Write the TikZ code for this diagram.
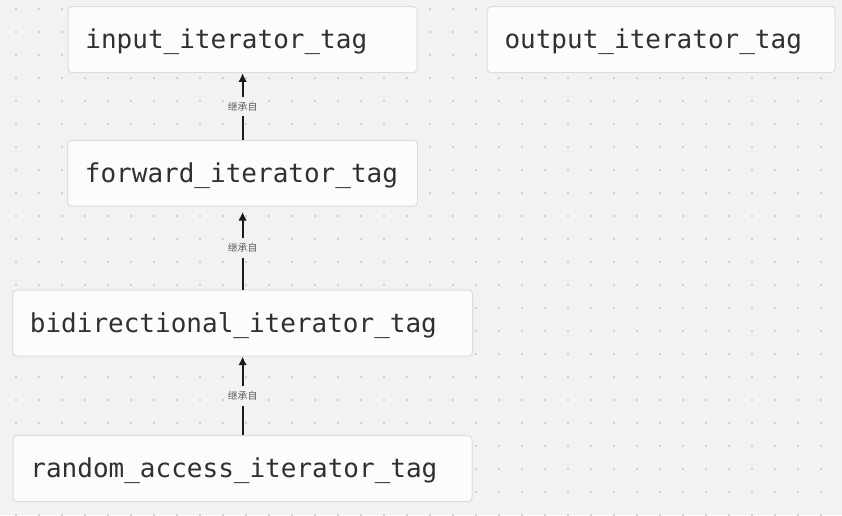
\documentclass[tikz,border=0pt]{standalone}
\usepackage{fontspec}
\newfontfamily\tagfont{DejaVu Sans Mono}
\newfontfamily\cjk{Noto Sans CJK SC}
\usepackage{tikz}
\usetikzlibrary{arrows.meta}
\tikzset{>={Latex[width=6.5pt,length=6.5pt]}}
\definecolor{canvas}{RGB}{242,242,244}
\definecolor{griddot}{RGB}{208,208,210}
\definecolor{boxline}{RGB}{220,220,222}
\definecolor{boxfill}{RGB}{252,252,252}
\definecolor{tagtext}{RGB}{48,48,48}
\definecolor{edgelabel}{RGB}{96,96,96}
\tikzset{
	tagbox/.style={draw=boxline,fill=boxfill,line width=0.75pt,rounded corners=3pt,align=left,inner xsep=13pt,inner ysep=0pt,minimum height=49.5pt,text height=13.5pt,text depth=0pt,font={\tagfont\fontsize{19.5pt}{20pt}\selectfont},text=tagtext},
	inherits/.style={->,line width=1.5pt,black!90},
	inheritlabel/.style={fill=canvas,inner xsep=1pt,inner ysep=4pt,font={\cjk\fontsize{7.4pt}{8pt}\selectfont},text=edgelabel}
}

\begin{document}
\begin{tikzpicture}[x=0.75pt,y=-0.75pt]
			\fill[canvas] (0,0) rectangle (842,515);
			\useasboundingbox (0,0) rectangle (842,515);
			\foreach \i in {0,...,36}
				\foreach \j in {0,...,22}
					\fill[griddot] ({14.7+23*\i},{7.7+23*\j}) rectangle +(2,2);
			
			\node[tagbox,text width=235.75pt] (input) at (242.6,39.7) {input\_iterator\_tag};
			\node[tagbox,text width=235pt] (output) at (661.2,39.7) {output\_iterator\_tag};
			\node[tagbox,text width=236.5pt,minimum height=49.3pt] (forward) at (242.6,173.2) {forward\_iterator\_tag};
			\node[tagbox,text width=319pt] (bidir) at (242.6,323) {bidirectional\_iterator\_tag};
			\node[tagbox,text width=318.25pt] (random) at (242.6,468.7) {random\_access\_iterator\_tag};
			
			\draw[inherits] (forward) -- node[inheritlabel] (lblfwd) {继承自} (input);
			\draw[inherits,shorten >=4pt] (bidir) -- node[inheritlabel] (lblbidir) {继承自} (forward);
			\draw[inherits] (random) -- node[inheritlabel] (lblrandom) {继承自} (bidir);
\end{tikzpicture}
\end{document}
